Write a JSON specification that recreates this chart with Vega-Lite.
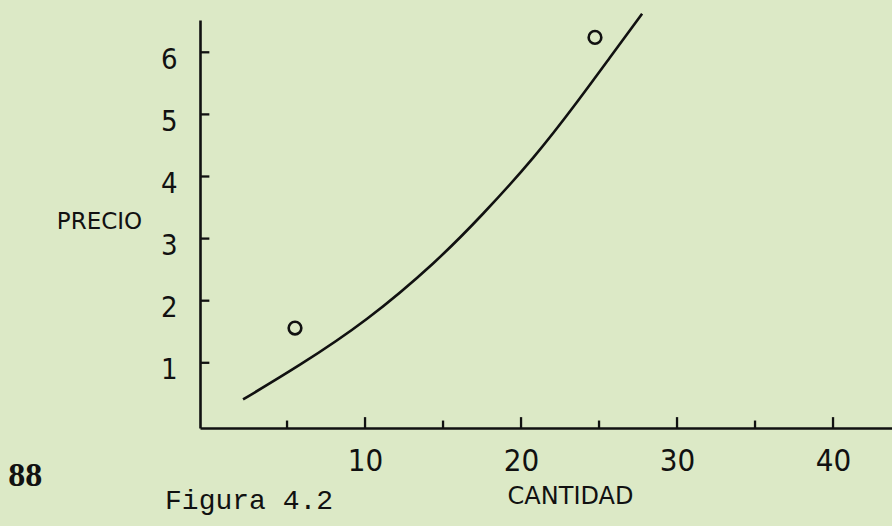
{
  "$schema": "https://vega.github.io/schema/vega-lite/v6.json",
  "width": 692,
  "height": 408,
  "autosize": "none",
  "padding": {"left": 200, "top": 20, "right": 0, "bottom": 98},
  "background": "#dce9c6",
  "config": {
    "view": {"stroke": null},
    "axis": {"grid": false, "ticks": false, "tickSize": 0, "domainColor": "#111111", "domainWidth": 2.6, "labelColor": "#111111", "titleColor": "#111111"}
  },
  "layer": [
    {
      "data": {"values": [
        {"cantidad": 2.18, "precio": 0.41},
        {"cantidad": 5.83, "precio": 0.97},
        {"cantidad": 10.13, "precio": 1.71},
        {"cantidad": 14.36, "precio": 2.6},
        {"cantidad": 17.56, "precio": 3.4},
        {"cantidad": 20.77, "precio": 4.3},
        {"cantidad": 23.59, "precio": 5.2},
        {"cantidad": 25.71, "precio": 5.92},
        {"cantidad": 27.76, "precio": 6.62}
      ]},
      "mark": {"type": "line", "interpolate": "natural", "color": "#111111", "strokeWidth": 2.6},
      "encoding": {
        "x": {
          "field": "cantidad", "type": "quantitative",
          "scale": {"domain": [-0.58, 43.78], "nice": false, "zero": false},
          "axis": {
            "values": [10, 20, 30, 40], "format": "d",
            "labelFont": "Liberation Sans Narrow, DejaVu Sans Condensed, Roboto Condensed, DejaVu Sans",
            "labelFontSize": 31, "labelFontWeight": "normal", "labelBaseline": "alphabetic", "labelPadding": 42, "labelFlush": false,
            "title": "CANTIDAD", "titleFont": "DejaVu Sans", "titleFontSize": 24, "titleFontWeight": "normal",
            "titleX": 370, "titleY": 75, "titleAlign": "center", "titleBaseline": "alphabetic"
          }
        },
        "y": {
          "field": "precio", "type": "quantitative",
          "scale": {"domain": [-0.05, 6.52], "nice": false, "zero": false},
          "axis": {
            "values": [1, 2, 3, 4, 5, 6], "format": "d",
            "labelFont": "Liberation Sans Narrow, DejaVu Sans Condensed, Roboto Condensed, DejaVu Sans",
            "labelFontSize": 29, "labelFontWeight": "normal", "labelPadding": 23, "labelBaseline": "middle", "labelOffset": 7, "labelFlush": false,
            "title": "PRECIO", "titleAngle": 0, "titleFont": "DejaVu Sans", "titleFontSize": 23, "titleFontWeight": "normal",
            "titleX": -101, "titleY": 208, "titleAlign": "center", "titleBaseline": "alphabetic"
          }
        }
      }
    },
    {
      "data": {"values": [
        {"cantidad": 5.51, "precio": 1.56},
        {"cantidad": 24.74, "precio": 6.24}
      ]},
      "mark": {"type": "point", "shape": "circle", "filled": false, "color": "#111111", "strokeWidth": 2.6, "size": 160, "opacity": 1},
      "encoding": {
        "x": {"field": "cantidad", "type": "quantitative"},
        "y": {"field": "precio", "type": "quantitative"}
      }
    },
    {
      "data": {"values": [
        {"cantidad": 5, "largo": 0.07},
        {"cantidad": 10, "largo": 0.125},
        {"cantidad": 15, "largo": 0.07},
        {"cantidad": 20, "largo": 0.125},
        {"cantidad": 25, "largo": 0.07},
        {"cantidad": 30, "largo": 0.125},
        {"cantidad": 35, "largo": 0.07},
        {"cantidad": 40, "largo": 0.125}
      ]},
      "mark": {"type": "rule", "color": "#111111", "strokeWidth": 2.3},
      "encoding": {
        "x": {"field": "cantidad", "type": "quantitative"},
        "y": {"field": "largo", "type": "quantitative"},
        "y2": {"datum": -0.05}
      }
    },
    {
      "data": {"values": [
        {"precio": 1, "largo": 0.02},
        {"precio": 2, "largo": 0.02},
        {"precio": 3, "largo": 0.02},
        {"precio": 4, "largo": 0.02},
        {"precio": 5, "largo": 0.02},
        {"precio": 6, "largo": 0.02}
      ]},
      "mark": {"type": "rule", "color": "#111111", "strokeWidth": 2.3},
      "encoding": {
        "y": {"field": "precio", "type": "quantitative"},
        "x": {"field": "largo", "type": "quantitative"},
        "x2": {"datum": -0.58}
      }
    },
    {
      "data": {"values": [{"etiqueta": "88"}]},
      "mark": {"type": "text", "font": "Liberation Serif", "fontSize": 34, "fontWeight": 600, "align": "center", "baseline": "alphabetic", "color": "#111111"},
      "encoding": {
        "text": {"field": "etiqueta", "type": "nominal"},
        "x": {"datum": -11.79, "type": "quantitative"},
        "y": {"datum": -0.98, "type": "quantitative"}
      }
    },
    {
      "data": {"values": [{"etiqueta": "Figura 4.2"}]},
      "mark": {"type": "text", "font": "Liberation Mono", "fontSize": 28, "align": "left", "baseline": "alphabetic", "color": "#111111"},
      "encoding": {
        "text": {"field": "etiqueta", "type": "nominal"},
        "x": {"datum": -2.82, "type": "quantitative"},
        "y": {"datum": -1.35, "type": "quantitative"}
      }
    }
  ]
}
